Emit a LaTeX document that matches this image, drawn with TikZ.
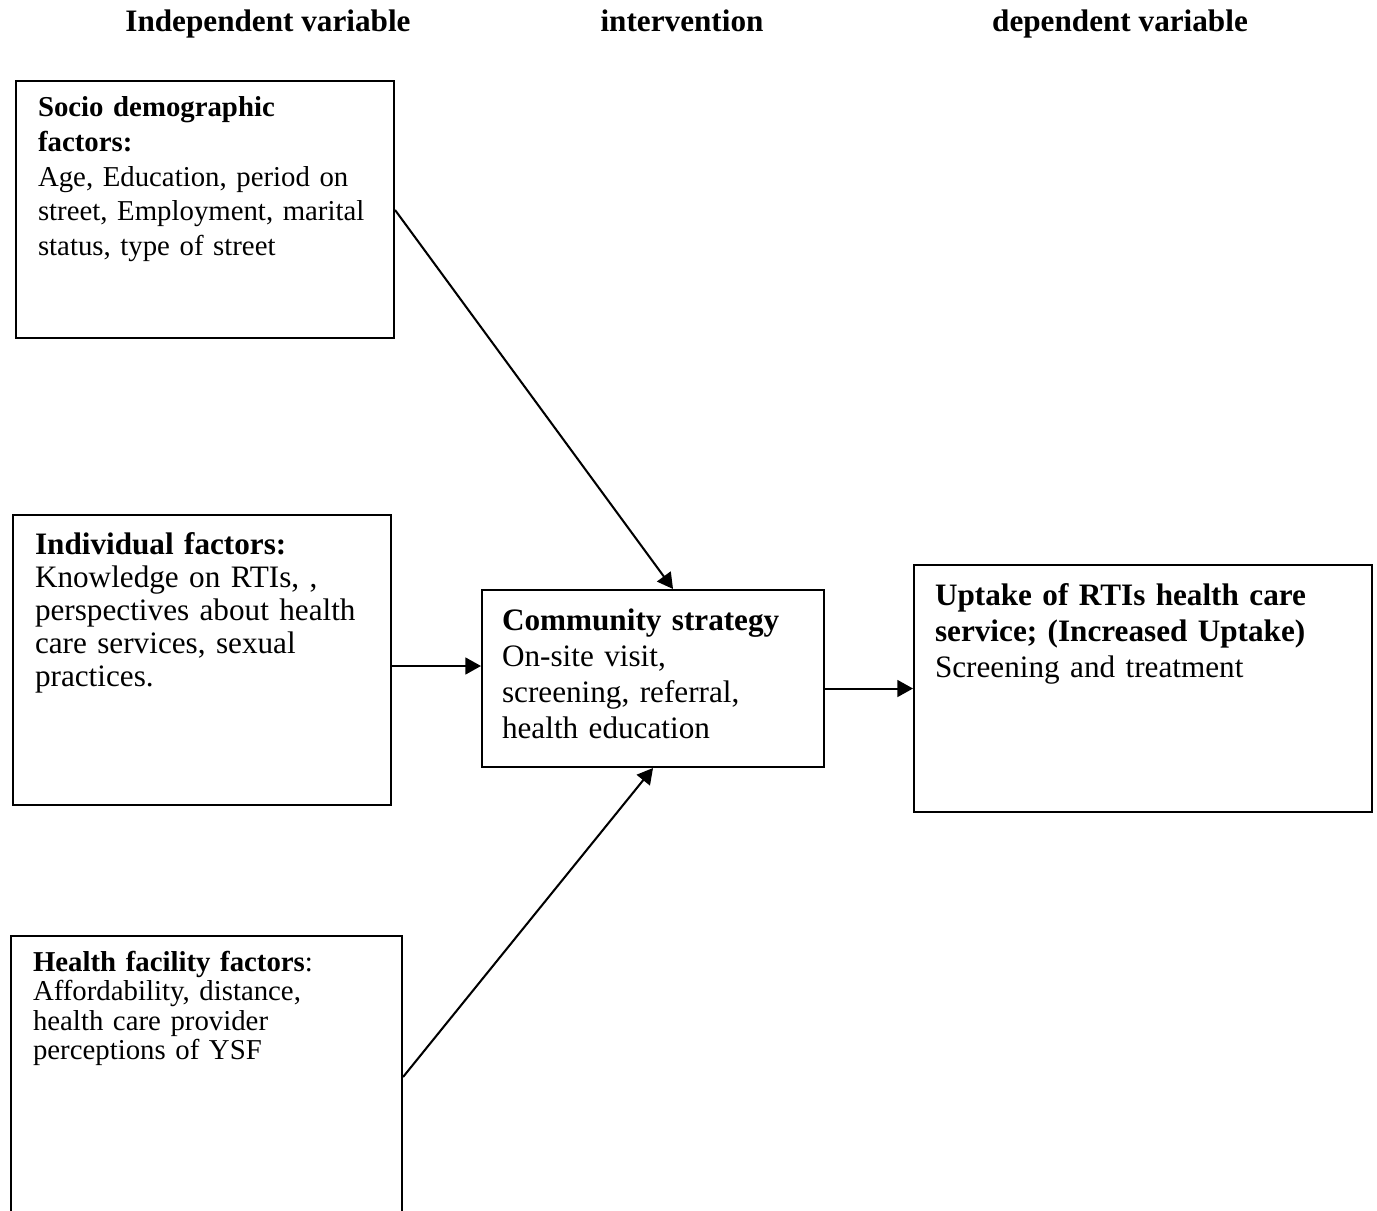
\documentclass[tikz,border=0pt]{standalone}
\usepackage{fontspec}
\setmainfont{Liberation Serif}
\usetikzlibrary{arrows.meta, calc}
\def\px{0.41667pt}

\begin{document}
\begin{tikzpicture}[
      x=\px, y=-\px,
      box/.style={draw, anchor=north west, inner sep=0pt},
      txt/.style={anchor=base west, inner sep=0pt, text width=175pt, align=left},
      head/.style={anchor=base, font=\fontsize{13}{15}\selectfont\bfseries},
      >={Triangle[length=6.5pt, width=7pt]}, line width=0.85pt]
    \clip (0,0) rectangle (1377,1211);
    % column headers
    \node[head] (hIndep) at (268,32) {Independent variable};
    \node[head] (hInter) at (682,32) {intervention};
    \node[head] (hDep) at (1120,32) {dependent variable};
    % boxes
    \node[box, minimum width=378*\px, minimum height=257*\px] (socio) at (15,80) {};
    \node[box, minimum width=378*\px, minimum height=290*\px] (indiv) at (12,514) {};
    \node[box, minimum width=391*\px, minimum height=330*\px] (hfac) at (10,935) {};
    \node[box, minimum width=342*\px, minimum height=177*\px] (comm) at (481,589) {};
    \node[box, minimum width=458*\px, minimum height=247*\px] (upt) at (913,564) {};
    % box texts
    \node[txt, font=\fontsize{12}{14.4}\selectfont] (socioT) at (37,117)
      {\textbf{Socio demographic}\\\textbf{factors:}\\Age, Education, period on\\
       street, Employment, marital\\status, type of street};
    \node[txt, font=\fontsize{13}{13.75}\selectfont] (indivT) at (34,554)
      {\textbf{Individual factors:}\\Knowledge on RTIs, ,\\perspectives about health\\
       care services, sexual\\practices.};
    \node[txt, font=\fontsize{12}{12.3}\selectfont] (hfacT) at (32,971)
      {\textbf{Health facility factors}:\\Affordability, distance,\\
       health care provider\\perceptions of YSF};
    \node[txt, font=\fontsize{13}{15}\selectfont] (commT) at (501,630)
      {\textbf{Community strategy}\\On-site visit,\\screening, referral,\\health education};
    \node[txt, font=\fontsize{13}{15}\selectfont] (uptT) at (934,605)
      {\textbf{Uptake of RTIs health care}\\\textbf{service; (Increased Uptake)}\\
       Screening and treatment};
    % connectors
    \draw[->] (socio.east |- 0,210) -- ($(comm.north)+(20,0)$);
    \draw[->] (indiv.east |- 0,666) -- (comm.west |- 0,666);
    \draw[->] (hfac.east |- 0,1077) -- (comm.south);
    \draw[->] (comm.east |- upt.west) -- (upt.west);
  \end{tikzpicture}
\end{document}
